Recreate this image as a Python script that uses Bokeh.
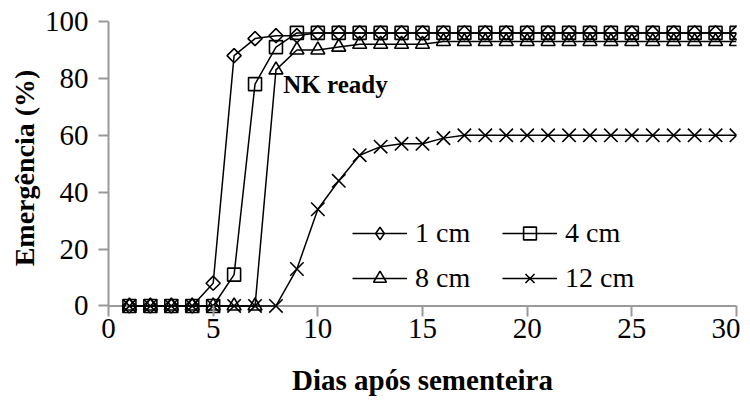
import math
from bokeh.plotting import figure
from bokeh.models import FixedTicker, Label, Legend, LegendItem, Span
from bokeh.embed import file_html
from bokeh.resources import INLINE

days = list(range(1, 31))
cm1 = [0, 0, 0, 0, 8, 88, 94, 95, 95, 96, 96, 96, 96, 96, 96, 96, 96, 96, 96, 96,
       96, 96, 96, 96, 96, 96, 96, 96, 96, 96]
cm4 = [0, 0, 0, 0, 0, 11, 78, 91, 96, 96, 96, 96, 96, 96, 96, 96, 96, 96, 96, 96,
       96, 96, 96, 96, 96, 96, 96, 96, 96, 96]
cm8 = [0, 0, 0, 0, 0, 0, 0, 83, 90, 90, 91, 92, 92, 92, 92, 93, 93, 93, 93, 93,
       93, 93, 93, 93, 93, 93, 93, 93, 93, 93]
cm12 = [0, 0, 0, 0, 0, 0, 0, 0, 13, 34, 44, 53, 56, 57, 57, 59, 60, 60, 60, 60,
        60, 60, 60, 60, 60, 60, 60, 60, 60, 60]
series_labels = ["1 cm", "4 cm", "8 cm", "12 cm"]
x_ticks = [0, 5, 10, 15, 20, 25, 30]
y_ticks = [0, 20, 40, 60, 80, 100]
x_title = "Dias após sementeira"
y_title = "Emergência (%)"
note = "NK ready"

FONT = "Liberation Serif"
AXIS_GRAY = "#9a9a9a"

p = figure(width=740, height=401, output_backend="svg", toolbar_location=None,
           x_range=(0, 30), y_range=(-3, 100),
           min_border_left=108, min_border_right=4, min_border_top=21,
           min_border_bottom=87)
p.outline_line_color = None
p.grid.visible = False
p.background_fill_color = "white"

# x-axis baseline at y = 0
p.add_layout(Span(location=0, dimension="width", line_color=AXIS_GRAY,
                  line_width=2, level="underlay"))

markers = ["square", "square", "triangle", "x"]
legend_markers = ["diamond", "square", "triangle", "x"]
angles = [math.pi / 4, 0, 0, 0]
sizes = [10, 13, 14, 19]
items = []
for vals, lab, mk, lmk, ang, sz in zip([cm1, cm4, cm8, cm12], series_labels, markers,
                                       legend_markers, angles, sizes):
    r1 = p.line(days, vals, line_color="black", line_width=1.5)
    r2 = p.scatter(days, vals, marker=mk, size=sz, angle=ang, line_color="black",
                   fill_color=None, line_width=1.6)
    if lmk != mk:
        # legend-only glyph (legend markers ignore the rotation angle)
        r3 = p.scatter(days, vals, marker=lmk, size=sz, line_color="black",
                       fill_color=None, line_width=1.6, visible=False)
        items.append(LegendItem(label=lab, renderers=[r1, r3]))
    else:
        items.append(LegendItem(label=lab, renderers=[r1, r2]))

legend = Legend(items=items, location=(244, 16), orientation="horizontal", ncols=2,
                glyph_width=55, glyph_height=32, label_standoff=8, spacing=5,
                label_width=82, label_height=40,
                padding=0, margin=0, border_line_color=None, background_fill_alpha=0,
                label_text_font=FONT, label_text_font_size="28px",
                label_text_color="black")
p.add_layout(legend, "center")

for ax in (p.xaxis[0], p.yaxis[0]):
    ax.axis_line_color = AXIS_GRAY
    ax.axis_line_width = 2
    ax.major_tick_line_color = AXIS_GRAY
    ax.major_tick_line_width = 2
    ax.minor_tick_line_color = None
    ax.major_label_text_font = FONT
    ax.major_label_text_font_size = "29px"
    ax.major_label_text_color = "black"
    ax.axis_label_text_font = FONT
    ax.axis_label_text_font_style = "bold"
    ax.axis_label_text_color = "black"

p.xaxis.axis_label_text_font_size = "29px"
p.yaxis.axis_label_text_font_size = "28px"
p.xaxis.axis_line_color = None
p.xaxis.major_tick_in = 9
p.xaxis.major_tick_out = 2
p.yaxis.major_tick_in = 0
p.yaxis.major_tick_out = 10
p.xaxis.ticker = FixedTicker(ticks=x_ticks)
p.yaxis.ticker = FixedTicker(ticks=y_ticks)
p.yaxis.bounds = (0, 100)
p.xaxis.axis_label = x_title
p.yaxis.axis_label = y_title
p.xaxis.major_label_standoff = 2
p.yaxis.major_label_standoff = 10
p.xaxis.axis_label_standoff = 23
p.yaxis.axis_label_standoff = 2

p.add_layout(Label(x=8.35, y=78, text=note, text_font=FONT, text_font_style="bold",
                   text_font_size="25px", text_baseline="middle", text_color="black"))

open("out.html", "w").write(file_html(p, INLINE))
